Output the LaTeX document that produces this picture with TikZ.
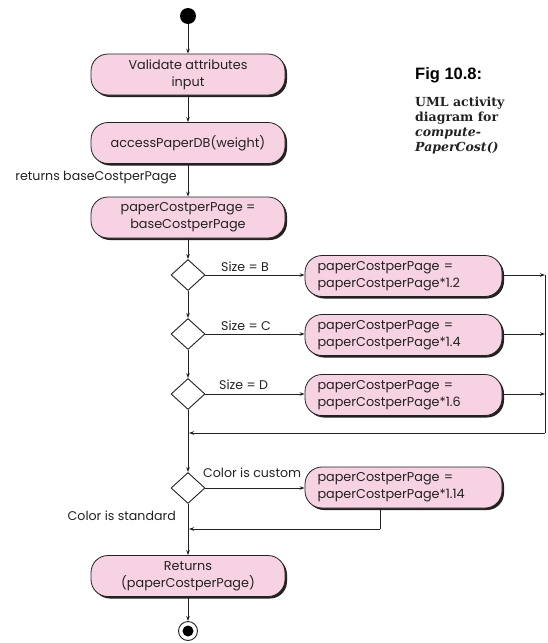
\documentclass[tikz,border=0pt]{standalone}
\usepackage{fontspec}
\setmainfont{Poppins}
\newfontfamily\figfont{Liberation Sans}
\newfontfamily\slabfont{DejaVu Serif}
\usetikzlibrary{shapes.geometric,arrows.meta}
\definecolor{boxpink}{HTML}{F7D2E2}
\definecolor{ink}{HTML}{222222}
\begin{document}
\begin{tikzpicture}[x=1pt,y=-1pt,
  every node/.style={font=\fontsize{12.8}{17}\selectfont, text=ink},
  act/.style={draw=ink, line width=0.8pt, fill=boxpink, rounded corners=17pt,
    minimum width=194pt, minimum height=41pt, inner sep=2pt, align=center},
  sideact/.style={act, minimum width=197pt, align=left, text width=172pt},
  dec/.style={draw=ink, line width=0.9pt, fill=white, diamond, inner sep=0pt,
    minimum width=34pt, minimum height=31pt},
  arr/.style={draw=ink, line width=0.9pt, -{Stealth[length=5pt,width=3.6pt]}},
  ln/.style={draw=ink, line width=0.9pt},
  lbl/.style={font=\fontsize{12.6}{15}\selectfont, text=ink, inner sep=0pt}
]
\useasboundingbox (0,0) rectangle (547,643);

% shadows (drawn first)
\foreach \cx/\cy/\w in {188/74.5/194, 188/143/194, 188/217.5/194, 188/576/194,
                        403.5/276/197, 403.5/335/197, 403.5/395/197, 403.5/487.5/197}{
  \fill[ink] (\cx-\w/2+2,\cy-20.5+2) [rounded corners=17pt] rectangle (\cx+\w/2+2,\cy+20.5+2);
}

% start
\node[circle, fill=black, minimum size=16pt, inner sep=0pt] (start) at (188,16) {};

% main actions
\node[act] (a1) at (188,74.5) {Validate attributes\\input};
\node[act] (a2) at (188,143) {accessPaperDB(weight)};
\node[act] (a3) at (188,217.5) {paperCostperPage =\\baseCostperPage};

% decisions
\node[dec] (d1) at (188,275) {};
\node[dec] (d2) at (188,334) {};
\node[dec] (d3) at (188,394) {};
\node[dec] (d4) at (188,488) {};

% side actions
\node[sideact] (b1) at (403.5,276) {paperCostperPage =\\paperCostperPage*1.2};
\node[sideact] (b2) at (403.5,335) {paperCostperPage =\\paperCostperPage*1.4};
\node[sideact] (b3) at (403.5,395) {paperCostperPage =\\paperCostperPage*1.6};
\node[sideact] (b4) at (403.5,487.5) {paperCostperPage =\\paperCostperPage*1.14};

% final action
\node[act] (a4) at (188,576) {Returns\\(paperCostperPage)};

% end
\node[circle, draw=ink, line width=0.9pt, fill=white, minimum size=19pt, inner sep=0pt] (end) at (188,631) {};
\node[circle, fill=black, minimum size=11pt, inner sep=0pt] (endin) at (188,631) {};

% coordinates
\coordinate (r1) at (545,275);
\coordinate (r2) at (545,334);
\coordinate (r3) at (545,394);
\coordinate (r4) at (545,433);
\coordinate (j1) at (189,433);
\coordinate (c1) at (380,529);
\coordinate (j2) at (189,529);

% main flow
\draw[arr] (start) -- (a1);
\draw[arr] (a1) -- (a2);
\draw[arr] (a2) -- (a3);
\draw[arr] (a3) -- (d1);
\draw[arr] (d1) -- (d2);
\draw[arr] (d2) -- (d3);
\draw[arr] (d3) -- (d4);
\draw[arr] (d4) -- (a4);
\draw[arr] (a4) -- (end);

% branches
\draw[arr] (d1.east) -- (b1.west |- d1.east);
\draw[arr] (d2.east) -- (b2.west |- d2.east);
\draw[arr] (d3.east) -- (b3.west |- d3.east);
\draw[arr] (d4.east) -- (b4.west |- d4.east);
\draw[arr] (b1.east |- r1) -- (r1);
\draw[arr] (b2.east |- r2) -- (r2);
\draw[arr] (b3.east |- r3) -- (r3);
\draw[ln] (r1) -- (r4);
\draw[arr] (r4) -- (j1);
\draw[ln] (b4.south -| c1) -- (c1);
\draw[arr] (c1) -- (j2);

% labels
\node[lbl, anchor=east] (l0) at (177,178) {returns baseCostperPage};
\node[lbl, anchor=west] (l1) at (221,267) {Size = B};
\node[lbl, anchor=west] (l2) at (221,326) {Size = C};
\node[lbl, anchor=west] (l3) at (219,385) {Size = D};
\node[lbl, anchor=west] (l4) at (203,473) {Color is custom};
\node[lbl, anchor=east] (l5) at (176,516) {Color is standard};

% figure caption
\node[anchor=west, inner sep=0pt, font=\figfont\bfseries\fontsize{16.5}{18}\selectfont, text=black] (fig) at (415,75) {Fig 10.8:};
\node[anchor=north west, inner sep=0pt, align=left, font=\slabfont\bfseries\fontsize{12.5}{15}\selectfont, text=ink] (cap) at (415,97)
  {UML activity\\diagram for\\\textit{compute-}\\\textit{PaperCost()}};
\end{tikzpicture}
\end{document}
